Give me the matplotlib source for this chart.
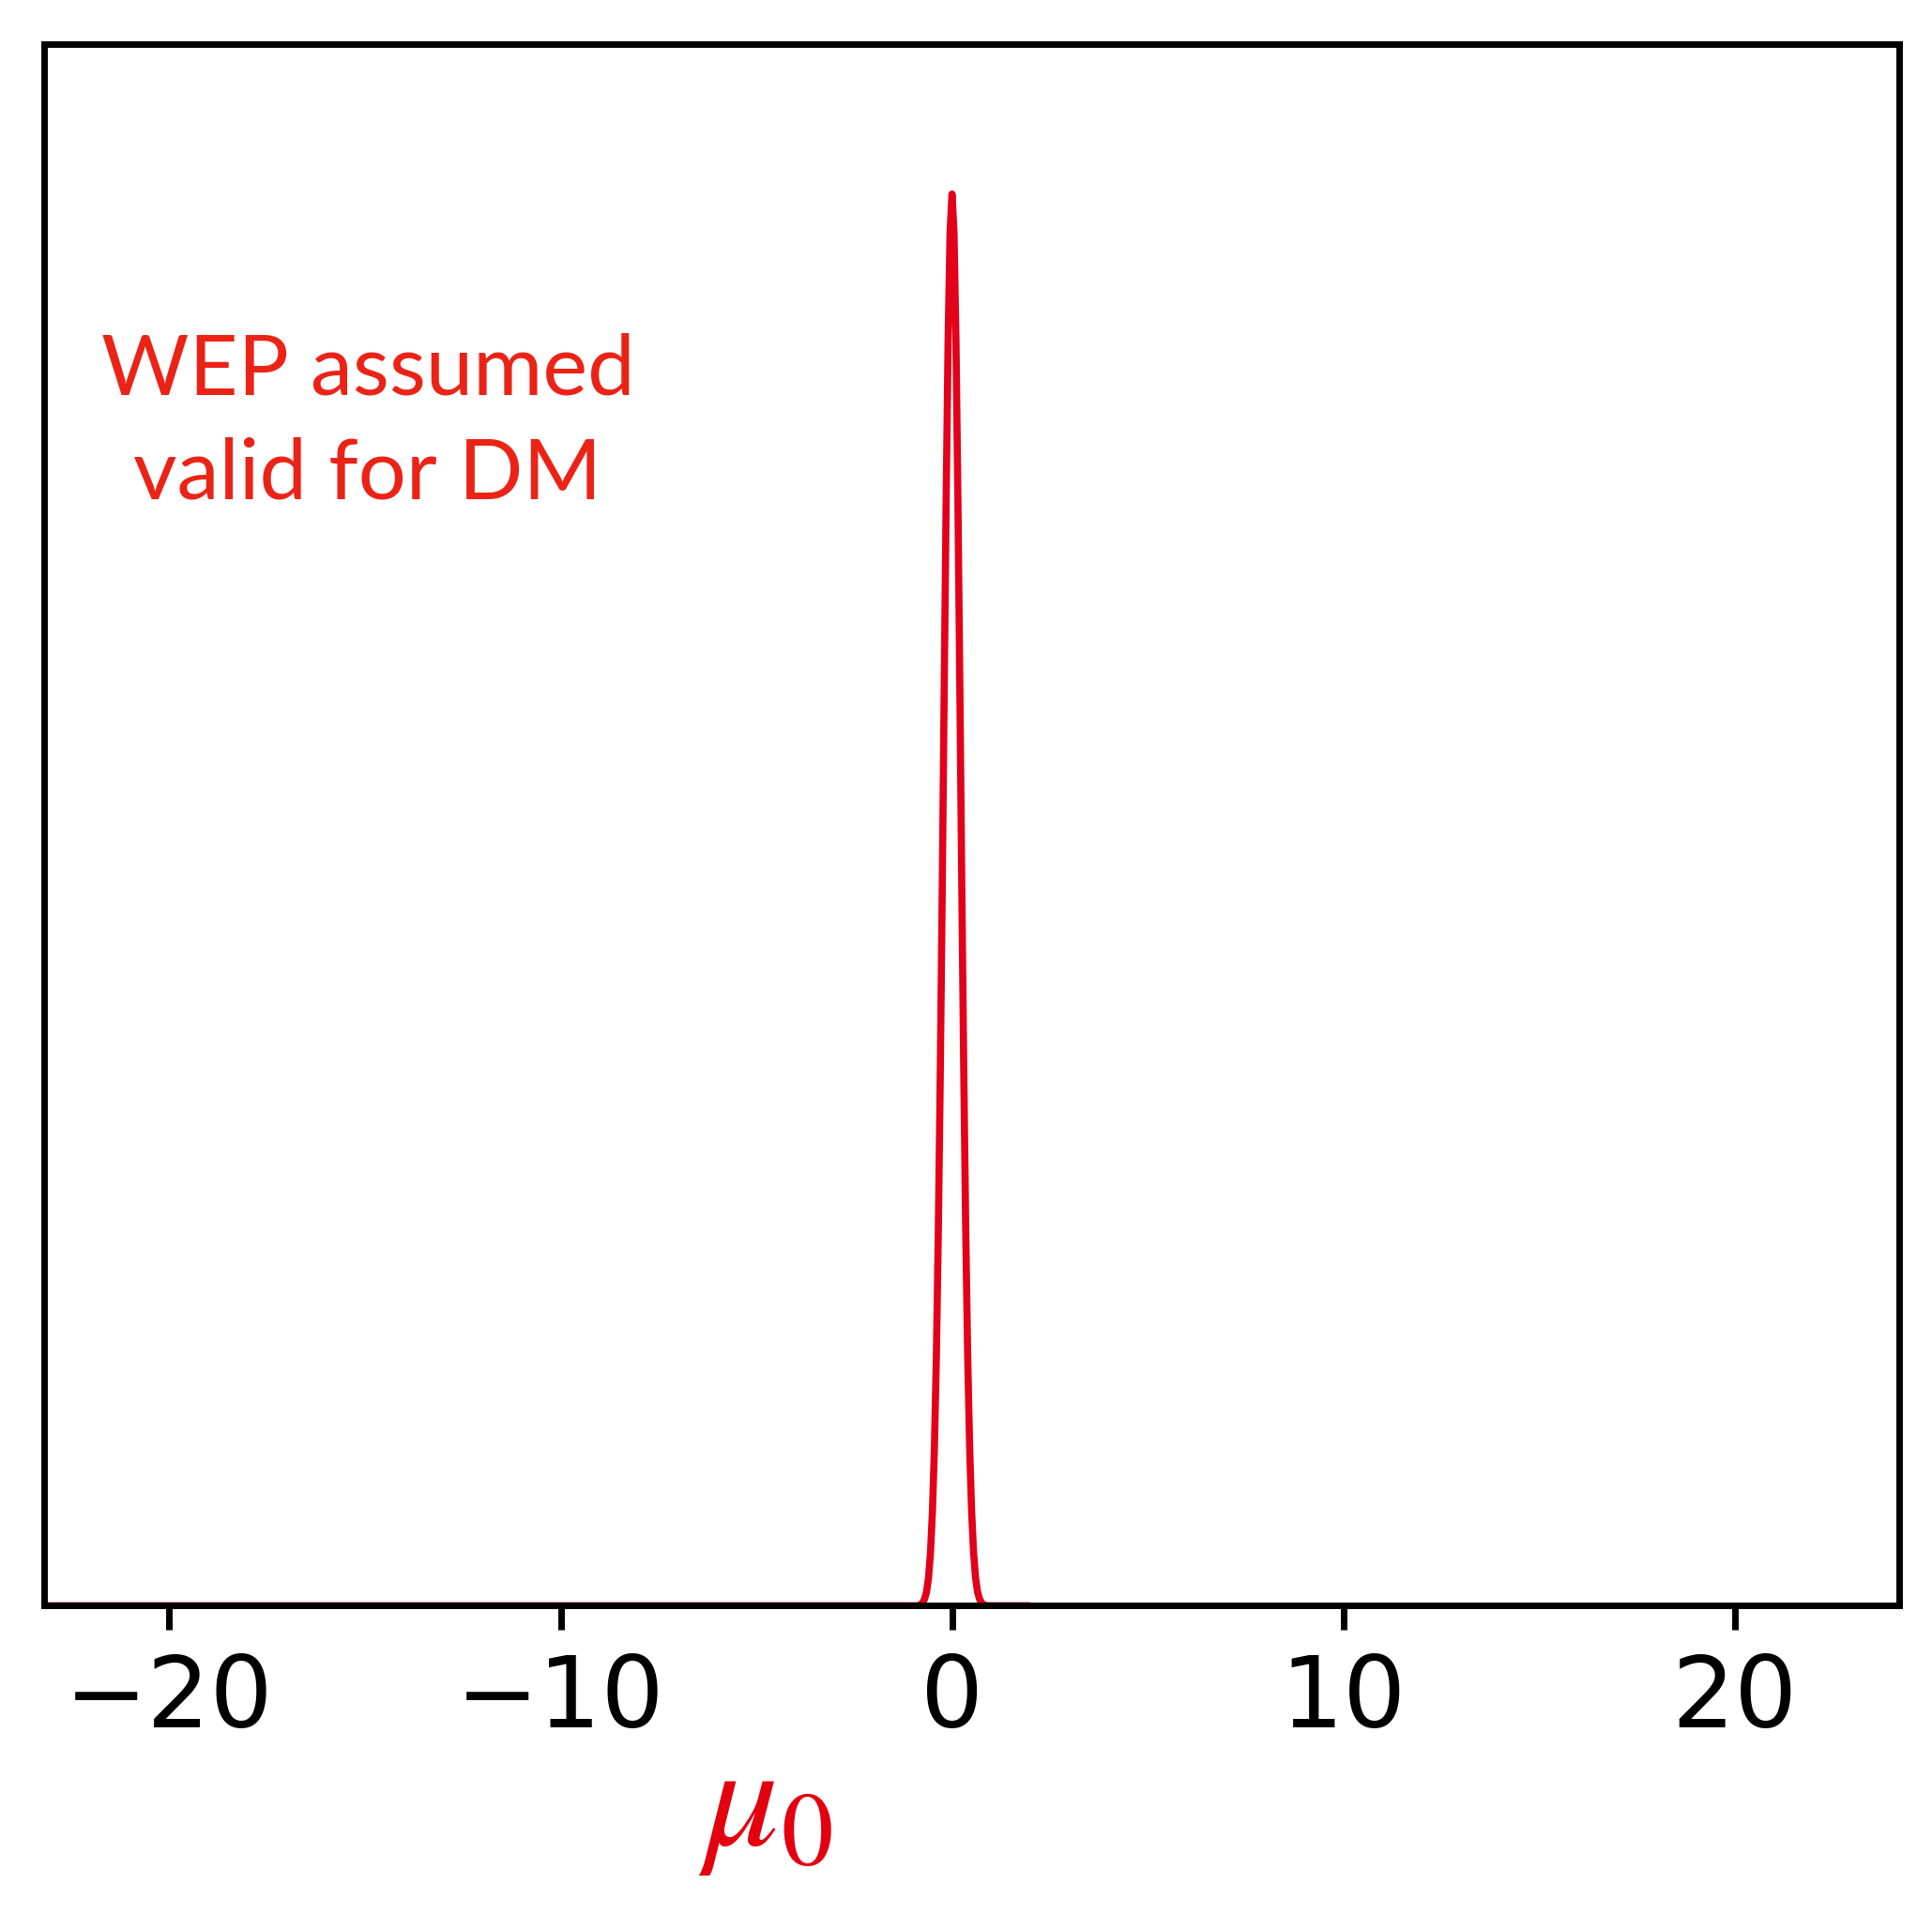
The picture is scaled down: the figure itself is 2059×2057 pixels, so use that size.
import numpy as np
import matplotlib.pyplot as plt

# posterior of mu_0 (peak normalised to 1)
mu_x = [-23.2, -0.85, -0.80, -0.75, -0.70, -0.65, -0.60, -0.55, -0.50, -0.45,
        -0.40, -0.35, -0.30, -0.25, -0.20, -0.15, -0.10, -0.05, 0.0,
        0.05, 0.10, 0.15, 0.20, 0.25, 0.30, 0.35, 0.40, 0.45, 0.50,
        0.55, 0.60, 0.65, 0.70, 0.75, 0.80, 0.85, 2.0]
mu_p = [0.0, 0.0, 0.001, 0.002, 0.005, 0.010, 0.020, 0.038, 0.067, 0.112,
        0.177, 0.266, 0.378, 0.508, 0.649, 0.784, 0.897, 0.973, 1.0,
        0.973, 0.897, 0.784, 0.649, 0.508, 0.378, 0.266, 0.177, 0.112, 0.067,
        0.038, 0.020, 0.010, 0.005, 0.002, 0.001, 0.0, 0.0]
xticks = [-20, -10, 0, 10, 20]
note = ['WEP assumed', 'valid for DM']

plt.rcParams['mathtext.fontset'] = 'stix'

fig = plt.figure(figsize=(20.59, 20.57), dpi=100)
ax = fig.add_axes([0.0228, 0.168, 0.9602, 0.809])

ax.plot(mu_x, mu_p, color='#e2001a', lw=5.5, solid_capstyle='butt')

ax.set_xlim(-23.2, 24.2)
ax.set_ylim(0, 1.106)
ax.set_xticks(xticks)
ax.set_yticks([])
for s in ax.spines.values():
    s.set_linewidth(5)
ax.tick_params(axis='x', direction='out', length=19, width=5, pad=17, labelsize=76)

ax.text(0.1745, 0.7758, note[0], transform=ax.transAxes, ha='center', va='baseline',
        color='#eb2317', fontsize=65, family='Lato')
ax.text(0.1745, 0.7091, note[1], transform=ax.transAxes, ha='center', va='baseline',
        color='#eb2317', fontsize=65, family='Lato')

fig.text(0.396, 0.0645, r'$\mu_0$', ha='center', va='center', color='#e3000f', fontsize=114)

plt.savefig('out.png')
